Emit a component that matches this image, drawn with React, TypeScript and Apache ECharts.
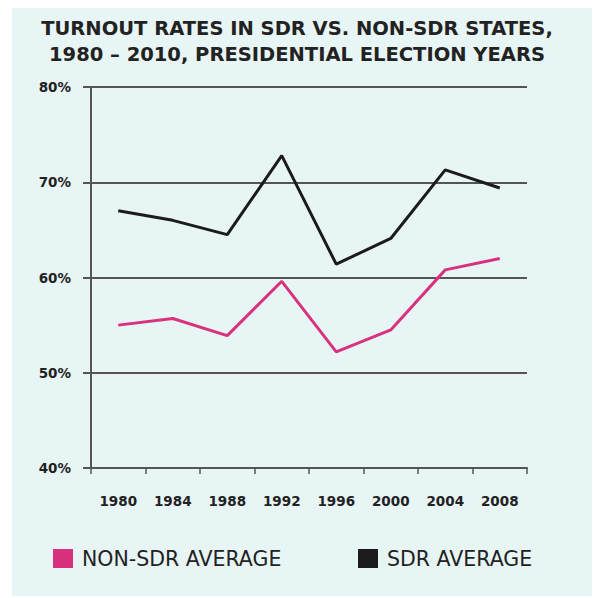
import React, { useEffect, useRef } from "react";
import * as echarts from "echarts";

const years = ["1980", "1984", "1988", "1992", "1996", "2000", "2004", "2008"];
const nonSdr = [55.0, 55.7, 53.9, 59.6, 52.2, 54.5, 60.8, 62.0];
const sdr = [67.0, 66.0, 64.5, 72.8, 61.4, 64.1, 71.3, 69.4];
const titleLines = [
  "TURNOUT RATES IN SDR VS. NON-SDR STATES,",
  "1980 – 2010, PRESIDENTIAL ELECTION YEARS",
];

const FONT = "'DejaVu Sans', 'Open Sans', sans-serif";
const PINK = "#d8327f";
const BLACK = "#1b1b1b";
const GRID = "#555555";

export default function App() {
  const ref = useRef<HTMLDivElement>(null);
  useEffect(() => {
    if (!ref.current) return;
    const chart = echarts.init(ref.current, undefined, { renderer: "svg" });
    const legendText = { fontFamily: FONT, fontSize: 20.5, color: "#222222", fontWeight: 400, padding: [0, 0, 0, 4] };
    chart.setOption({
      animation: false,
      backgroundColor: "#ffffff",
      graphic: [
        {
          type: "rect",
          z: -10,
          shape: { x: 12, y: 8, width: 580, height: 588 },
          style: { fill: "#e8f5f5" },
        },
      ],
      title: {
        text: titleLines.join("\n"),
        left: "center",
        top: 10,
        textStyle: {
          fontFamily: FONT,
          fontWeight: 700,
          fontSize: 19.5,
          lineHeight: 26,
          color: "#222222",
        },
      },
      legend: [
        {
          data: ["NON-SDR AVERAGE"],
          left: 53,
          top: 548,
          padding: 0,
          icon: "rect",
          itemWidth: 20,
          itemHeight: 19,
          textStyle: legendText,
        },
        {
          data: ["SDR AVERAGE"],
          left: 358,
          top: 548,
          padding: 0,
          icon: "rect",
          itemWidth: 20,
          itemHeight: 19,
          textStyle: legendText,
        },
      ],
      grid: { left: 91, right: 67, top: 87, bottom: 130, containLabel: false },
      xAxis: {
        type: "category",
        data: years,
        boundaryGap: true,
        axisLine: { show: true, lineStyle: { color: GRID, width: 2 } },
        axisTick: { show: true, length: 6, lineStyle: { color: GRID, width: 1.5 } },
        axisLabel: {
          margin: 26,
          fontFamily: FONT,
          fontSize: 13.5,
          fontWeight: 700,
          color: "#222222",
        },
      },
      yAxis: {
        type: "value",
        min: 40,
        max: 80,
        interval: 10,
        axisLine: { show: true, lineStyle: { color: GRID, width: 2 } },
        axisTick: { show: true, length: 8, lineStyle: { color: GRID, width: 2 } },
        splitLine: { show: true, lineStyle: { color: GRID, width: 2 } },
        axisLabel: {
          margin: 20,
          fontFamily: FONT,
          fontSize: 13.5,
          fontWeight: 700,
          color: "#222222",
          formatter: "{value}%",
        },
      },
      series: [
        {
          name: "NON-SDR AVERAGE",
          type: "line",
          data: nonSdr,
          symbol: "none",
          itemStyle: { color: PINK },
          lineStyle: { color: PINK, width: 3 },
        },
        {
          name: "SDR AVERAGE",
          type: "line",
          data: sdr,
          symbol: "none",
          itemStyle: { color: BLACK },
          lineStyle: { color: BLACK, width: 3 },
        },
      ],
    });
    return () => chart.dispose();
  }, []);
  return <div ref={ref} style={{ width: 594, height: 598, position: "absolute", left: 0, top: 0 }} />;
}
